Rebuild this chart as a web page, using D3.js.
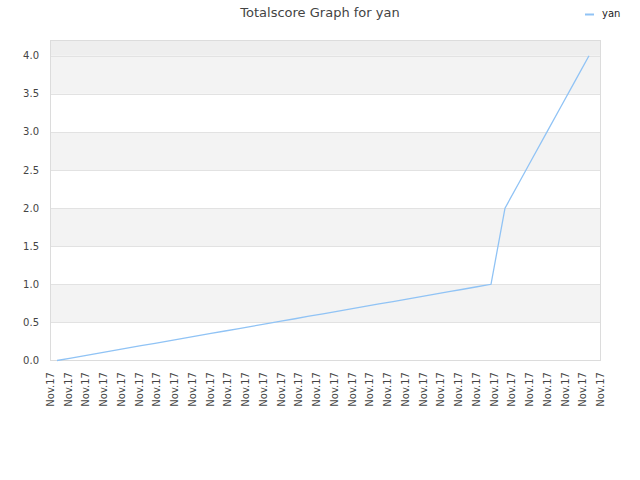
<!DOCTYPE html>
<html><head><meta charset="utf-8">
<script src="https://cdn.jsdelivr.net/npm/d3@7"></script>
<style>body{margin:0;background:#fff}svg{display:block}text{font-family:"DejaVu Sans",sans-serif}</style>
</head><body>
<svg id="c" width="640" height="480"></svg>
<script>
const title = "Totalscore Graph for yan";
const seriesName = "yan";
const values = [0, 0.032, 0.065, 0.097, 0.129, 0.161, 0.194, 0.226, 0.258, 0.290, 0.323, 0.355, 0.387, 0.419, 0.452, 0.484,
  0.516, 0.548, 0.581, 0.613, 0.645, 0.677, 0.710, 0.742, 0.774, 0.806, 0.839, 0.871, 0.903, 0.935, 0.968, 1.0,
  2.0, 2.333, 2.667, 3.0, 3.333, 3.667, 4.0];
const xLabels = Array(32).fill("Nov.17");
const yTicks = [0, 0.5, 1.0, 1.5, 2.0, 2.5, 3.0, 3.5, 4.0];

const svg = d3.select("#c");
const L = 50.5, R = 600.5, T = 40.5, B = 360.5;
const y = d3.scaleLinear().domain([0, 4.2]).range([B, T]);
const x = d3.scalePoint().domain(d3.range(values.length)).range([57, 589]);
const xl = d3.scalePoint().domain(d3.range(xLabels.length)).range([54, 604]);

// bands
const bands = [[4.0, 4.2, "#eeeeee"]];
for (let i = 0; i < yTicks.length - 1; i++) {
  if (i % 2 === 1) bands.push([yTicks[i], yTicks[i + 1], "#f3f3f3"]);
}
svg.selectAll("rect.band").data(bands).enter().append("rect")
  .attr("x", L).attr("width", R - L)
  .attr("y", d => y(d[1])).attr("height", d => y(d[0]) - y(d[1]))
  .attr("fill", d => d[2]);

// grid
svg.selectAll("line.grid").data(yTicks.slice(1)).enter().append("line")
  .attr("x1", L).attr("x2", R).attr("y1", d => Math.round(y(d)) + 0.5).attr("y2", d => Math.round(y(d)) + 0.5)
  .attr("stroke", "#e2e2e2");

// border
svg.append("rect").attr("x", L).attr("y", T).attr("width", R - L).attr("height", B - T)
  .attr("fill", "none").attr("stroke", "#dcdcdc");

// y labels
svg.selectAll("text.yt").data(yTicks).enter().append("text")
  .attr("x", 39).attr("y", d => y(d) + 3.5).attr("text-anchor", "end")
  .attr("font-size", 10).attr("fill", "#444").text(d => d.toFixed(1));

// x labels
svg.selectAll("text.xt").data(xLabels).enter().append("text")
  .attr("transform", (d, i) => `translate(${xl(i)},372) rotate(-90)`)
  .attr("text-anchor", "end").attr("font-size", 10).attr("fill", "#444").text(d => d);

// line
svg.append("path").datum(values)
  .attr("d", d3.line().x((d, i) => x(i)).y(d => y(d)))
  .attr("fill", "none").attr("stroke", "#90c3f5").attr("stroke-width", 1.3);

// title
svg.append("text").attr("x", 320).attr("y", 17).attr("text-anchor", "middle")
  .attr("font-size", 13).attr("fill", "#444").text(title);

// legend
svg.append("line").attr("x1", 585).attr("x2", 594).attr("y1", 14.5).attr("y2", 14.5)
  .attr("stroke", "#90c3f5").attr("stroke-width", 2);
svg.append("text").attr("x", 602).attr("y", 17).attr("font-size", 10).attr("fill", "#222").text(seriesName);
</script>
</body></html>
